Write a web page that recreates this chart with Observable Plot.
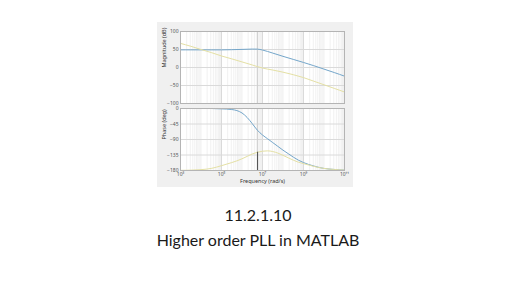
<!DOCTYPE html>
<html><head><meta charset="utf-8">
<script src="https://cdn.jsdelivr.net/npm/d3@7"></script>
<script src="https://cdn.jsdelivr.net/npm/@observablehq/plot@0.6"></script>
<style>
html,body{margin:0;padding:0;background:#fff}
body{width:520px;height:292px;position:relative;overflow:hidden;font-family:Lato,"Open Sans",sans-serif}
#panel{position:absolute;left:157px;top:22px;width:196px;height:165px;background:#f0f0f0}
#mag{position:absolute;left:0;top:0;height:83px}
#phase{position:absolute;left:0;top:83px;height:82px}
.t{position:absolute;left:0;width:516px;text-align:center;color:#1a1a1a;font-size:16px;line-height:20px;white-space:nowrap}
</style></head><body>
<div id="panel"><div id="mag"></div><div id="phase"></div></div>
<div class="t" id="t1" style="top:205px"></div>
<div class="t" id="t2" style="top:230px"></div>
<script>
// ---- data ----
const titleLines = ["11.2.1.10", "Higher order PLL in MATLAB"];
const magLabel = "Magnitude (dB)";
const phaseLabel = "Phase (deg)";
const freqLabel = "Frequency (rad/s)";
const seriesNames = ["G1", "G2"];

const magExp    = [3, 3.5, 4, 4.5, 5, 5.5, 6, 6.5, 6.75, 7, 7.25, 7.5, 8, 8.5, 9, 9.5, 10, 10.5, 11];
const blueMag   = [49, 49, 49, 49, 49, 49.5, 50.3, 51.2, 51, 48.5, 44.5, 40, 31, 22.5, 14, 5, -4.5, -14, -24];
const yellowMag = [67, 59, 50, 41.5, 32, 24, 15.5, 7, 2.5, -1.5, -4.5, -7, -13, -20, -28, -38, -48, -58, -68];

const phaseExp    = [3, 3.5, 4, 4.5, 5, 5.5, 5.75, 6, 6.25, 6.5, 6.75, 7, 7.25, 7.5, 7.75, 8, 8.25, 8.5, 8.75, 9, 9.5, 10, 10.5, 11];
const bluePhase   = [0, 0, 0, 0, -1, -3, -6, -13, -26, -44, -63, -77, -88, -99, -110, -121, -131, -141, -150, -157, -167, -174, -177, -179];
const yellowPhase = [-179.5, -179, -177.5, -174, -166, -157, -152, -146, -139, -132, -127, -124, -123, -125, -129.5, -136, -143, -150, -156, -160, -168, -174, -177, -179];

const crossoverExp = [6.76];
const crossoverPhase = [-127];

const xTickExp = [3, 5, 7, 9, 11];
const magTicks = [-100, -50, 0, 50, 100];
const phaseTicks = [-180, -135, -90, -45, 0];

// ---- helpers ----
const sup = {"0":"⁰","1":"¹","2":"²","3":"³","4":"⁴","5":"⁵","6":"⁶","7":"⁷","8":"⁸","9":"⁹","-":"⁻"};
const fmtPow = d => "10" + String(Math.round(Math.log10(d))).split("").map(c => sup[c]).join("");
const xTicks = xTickExp.map(e => 10 ** e);
const minorTicks = [];
for (let k = 3; k < 11; k++) for (let m = 1; m < 10; m++) minorTicks.push(m * 10 ** k);

const magData = magExp.flatMap((e, i) => [
  {f: 10 ** e, v: blueMag[i], s: seriesNames[0]},
  {f: 10 ** e, v: yellowMag[i], s: seriesNames[1]}
]);
const phaseData = phaseExp.flatMap((e, i) => [
  {f: 10 ** e, v: bluePhase[i], s: seriesNames[0]},
  {f: 10 ** e, v: yellowPhase[i], s: seriesNames[1]}
]);
const cross = crossoverExp.map((e, i) => ({f: 10 ** e, p: crossoverPhase[i]}));

const colors = {domain: seriesNames, range: ["#74a6ca", "#e4e0a4"]};
const W = 196;
const xOpt = {type: "log", domain: [1e3, 1e11]};

const commonGrid = [
  Plot.frame({fill: "white", stroke: null}),
  Plot.gridX({ticks: minorTicks, stroke: "#f1f1f1", strokeOpacity: 1}),
  Plot.gridX({ticks: xTicks, stroke: "#dadada", strokeOpacity: 1}),
];

const mag = Plot.plot({
  width: W, height: 83,
  marginLeft: 23, marginRight: 9, marginTop: 9, marginBottom: 2,
  style: {background: "transparent", overflow: "visible"},
  x: {...xOpt, axis: null},
  y: {domain: [-100, 100], axis: null},
  color: colors,
  marks: [
    ...commonGrid,
    Plot.gridY({ticks: magTicks, stroke: "#dadada", strokeOpacity: 1}),
    Plot.ruleX(cross, {x: "f", stroke: "#cfcfcf"}),
    Plot.axisY({ticks: magTicks, tickSize: 0, tickPadding: 2, fontSize: 5, fill: "#555", label: null}),
    Plot.line(magData, {x: "f", y: "v", z: "s", stroke: "s", strokeWidth: 1, curve: "monotone-x"}),
    Plot.frame({stroke: "#b4b4b4"}),
    Plot.text([magLabel], {text: d => d, frameAnchor: "left", rotate: -90, dx: -16, fontSize: 5.5, fill: "#333"})
  ]
});
document.getElementById("mag").append(mag);

const phase = Plot.plot({
  width: W, height: 82,
  marginLeft: 23, marginRight: 9, marginTop: 3, marginBottom: 17,
  style: {background: "transparent", overflow: "visible"},
  x: {...xOpt, axis: null},
  y: {domain: [-180, 0], axis: null},
  color: colors,
  marks: [
    ...commonGrid,
    Plot.gridY({ticks: phaseTicks, stroke: "#dadada", strokeOpacity: 1}),
    Plot.ruleX(cross, {x: "f", stroke: "#cfcfcf"}),
    Plot.axisY({ticks: phaseTicks, tickSize: 0, tickPadding: 2, fontSize: 5, fill: "#555", label: null}),
    Plot.axisX({ticks: xTicks, tickFormat: fmtPow, tickSize: 0, tickPadding: 2, fontSize: 5, fill: "#555", label: null}),
    Plot.line(phaseData, {x: "f", y: "v", z: "s", stroke: "s", strokeWidth: 1, curve: "monotone-x"}),
    Plot.ruleX(cross, {x: "f", y1: -180, y2: "p", stroke: "#4a4a4a", strokeWidth: 1}),
    Plot.frame({stroke: "#b4b4b4"}),
    Plot.text([phaseLabel], {text: d => d, frameAnchor: "left", rotate: -90, dx: -16, fontSize: 5.5, fill: "#333"}),
    Plot.text([freqLabel], {text: d => d, frameAnchor: "bottom", dy: 12.5, fontSize: 5.5, fill: "#333"})
  ]
});
document.getElementById("phase").append(phase);

document.getElementById("t1").textContent = titleLines[0];
document.getElementById("t2").textContent = titleLines[1];
</script>
</body></html>
